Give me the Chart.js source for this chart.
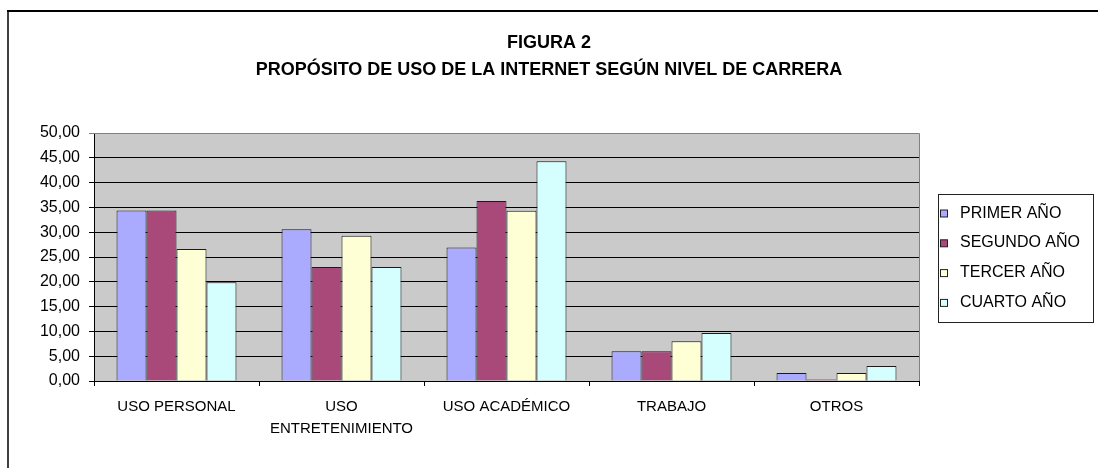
<!DOCTYPE html>
<html>
<head>
<meta charset="utf-8">
<script src="https://cdn.jsdelivr.net/npm/chart.js@4"></script>
<style>
html,body{margin:0;padding:0;background:#fff;}
#wrap{width:1098px;height:468px;position:relative;}
</style>
</head>
<body>
<div id="wrap"><canvas id="c" width="1098" height="468"></canvas></div>
<script>
const categories = ['USO PERSONAL', ['USO', 'ENTRETENIMIENTO'], 'USO ACADÉMICO', 'TRABAJO', 'OTROS'];
const seriesNames = ['PRIMER AÑO', 'SEGUNDO AÑO', 'TERCER AÑO', 'CUARTO AÑO'];
const primerAno  = [34.4, 30.6, 26.9, 6.0, 1.6];
const segundoAno = [34.4, 23.0, 36.3, 6.0, 0.3];
const tercerAno  = [26.6, 29.3, 34.3, 8.0, 1.6];
const cuartoAno  = [19.9, 23.0, 44.3, 9.7, 3.0];
const yTickLabels = ['0,00','5,00','10,00','15,00','20,00','25,00','30,00','35,00','40,00','45,00','50,00'];
const titleLines = ['FIGURA 2', 'PROPÓSITO DE USO DE LA INTERNET SEGÚN NIVEL DE CARRERA'];
const seriesColors = ['#AAAAFF', '#A8497A', '#FFFFD5', '#D5FFFF'];

const FONT = "'Liberation Sans', Arial, sans-serif";

const frameAndArea = {
  id: 'frameAndArea',
  beforeDraw(chart) {
    const ctx = chart.ctx, a = chart.chartArea;
    ctx.save();
    ctx.fillStyle = '#fff';
    ctx.fillRect(0, 0, chart.width, chart.height);
    ctx.strokeStyle = '#000';
    ctx.lineWidth = 2;
    ctx.beginPath(); ctx.moveTo(7, 11); ctx.lineTo(chart.width + 5, 11); ctx.stroke();
    ctx.lineWidth = 1.5;
    ctx.beginPath(); ctx.moveTo(8, 10); ctx.lineTo(8, chart.height + 5); ctx.stroke();
    ctx.fillStyle = '#CACACA';
    ctx.fillRect(a.left, a.top, a.right - a.left, a.bottom - a.top);
    ctx.restore();
  },
  afterDatasetsDraw(chart) {
    const ctx = chart.ctx, a = chart.chartArea;
    ctx.save();
    ctx.strokeStyle = '#808080';
    ctx.lineWidth = 1;
    ctx.beginPath();
    ctx.moveTo(a.left, a.top + 0.5); ctx.lineTo(a.right + 0.5, a.top + 0.5);
    ctx.lineTo(a.right + 0.5, a.bottom);
    ctx.stroke();
    ctx.restore();
  },
  afterDraw(chart) {
    const ctx = chart.ctx;
    ctx.save();
    ctx.strokeStyle = '#222';
    ctx.lineWidth = 1;
    ctx.strokeRect(938.5, 194.5, 155, 128);
    ctx.font = '16px ' + FONT;
    ctx.textBaseline = 'alphabetic';
    ctx.textAlign = 'left';
    chart.data.datasets.forEach((ds, i) => {
      const base = 217.5 + i * 29.8;
      ctx.fillStyle = ds.backgroundColor;
      ctx.fillRect(940.5, base - 7.5, 7, 7);
      ctx.strokeStyle = '#222';
      ctx.strokeRect(940.5, base - 7.5, 7, 7);
      ctx.fillStyle = '#000';
      ctx.fillText(ds.label, 960, base);
    });
    ctx.restore();
  }
};

const seriesData = [primerAno, segundoAno, tercerAno, cuartoAno];

new Chart(document.getElementById('c'), {
  type: 'bar',
  data: {
    labels: categories,
    datasets: seriesNames.map((name, i) => ({
      label: name,
      data: seriesData[i],
      backgroundColor: seriesColors[i],
      borderColor: '#1a1a1a',
      borderWidth: 1,
      categoryPercentage: 0.727,
      barPercentage: 1.0
    }))
  },
  options: {
    responsive: false,
    animation: false,
    devicePixelRatio: 1,
    layout: { padding: 0 },
    plugins: {
      legend: { display: false },
      tooltip: { enabled: false },
      title: {
        display: true,
        text: titleLines,
        color: '#000',
        font: { family: FONT, size: 18, weight: 'bold', lineHeight: 1.5 },
        padding: { top: 29.5, bottom: 49.5 }
      }
    },
    scales: {
      x: {
        afterFit(s) { s.height = 87; },
        grid: { display: true, drawOnChartArea: false, offset: true, color: '#000', tickLength: 5 },
        border: { display: true, color: '#000', width: 1 },
        ticks: {
          color: '#000', maxRotation: 0, minRotation: 0, autoSkip: false, padding: 10,
          font: { family: FONT, size: 15, lineHeight: 1.47 }
        }
      },
      y: {
        min: 0, max: 50,
        afterFit(s) { s.width = 94; },
        grid: {
          color: (c) => (c.tick && c.tick.value === 50 ? '#808080' : '#000'),
          lineWidth: 1, tickLength: 5
        },
        border: { display: true, color: '#000', width: 1 },
        ticks: {
          stepSize: 5, color: '#000', padding: 9,
          font: { family: FONT, size: 16 },
          callback: (v, i) => yTickLabels[i]
        }
      },
      legendSpace: {
        type: 'linear',
        position: 'right',
        display: true,
        afterFit(s) { s.width = 179; },
        grid: { display: false, drawTicks: false },
        border: { display: false },
        ticks: { display: false }
      }
    }
  },
  plugins: [frameAndArea]
});
</script>
</body>
</html>
